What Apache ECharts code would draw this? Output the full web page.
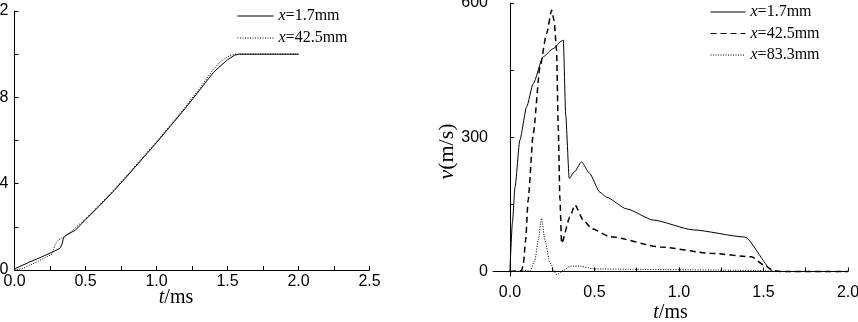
<!DOCTYPE html>
<html>
<head>
<meta charset="utf-8">
<script src="https://cdn.jsdelivr.net/npm/echarts@6/dist/echarts.min.js"></script>
<style>
  html, body { margin: 0; padding: 0; background: #fff; }
  #chart { width: 858px; height: 322px; }
</style>
</head>
<body>
<div id="chart"></div>
<script>
// left panel: displacement vs time
const leftT1 = [0, 0.1, 0.2, 0.285, 0.32, 0.335, 0.345, 0.367, 0.43, 0.5, 0.6, 0.7, 0.8, 0.9, 1.0, 1.1, 1.2, 1.3, 1.4, 1.45, 1.5, 1.55, 1.58, 1.7, 2.0];
const leftY1 = [0.05, 0.35, 0.63, 0.89, 1.0, 1.2, 1.5, 1.62, 1.85, 2.33, 2.98, 3.67, 4.4, 5.15, 5.9, 6.68, 7.47, 8.3, 9.15, 9.45, 9.74, 9.95, 10.0, 10.0, 10.0];
const leftT2 = [0, 0.06, 0.15, 0.26, 0.275, 0.29, 0.31, 0.344, 0.4, 0.5, 0.6, 0.7, 0.8, 0.9, 1.0, 1.1, 1.2, 1.3, 1.4, 1.45, 1.5, 1.55, 1.6, 2.0];
const leftY2 = [0, 0.08, 0.35, 0.72, 0.95, 1.25, 1.4, 1.52, 1.78, 2.38, 3.03, 3.72, 4.45, 5.2, 5.95, 6.73, 7.53, 8.38, 9.3, 9.65, 9.88, 10.0, 10.0, 10.0];

// right panel: velocity vs time
const rightT1 = [0, 0.015, 0.03, 0.059, 0.099, 0.138, 0.197, 0.256, 0.306, 0.316, 0.33, 0.351, 0.38, 0.424, 0.47, 0.533, 0.572, 0.69, 0.848, 1.085, 1.39, 1.558, 1.6, 2.0];
const rightV1 = [0, 110, 188, 294, 368, 420, 480, 498, 515, 517, 350, 208, 222, 245, 220, 177, 166, 140, 115, 93, 77, 0, 0, 0];
const rightT2 = [0, 0.069, 0.079, 0.093, 0.108, 0.138, 0.178, 0.217, 0.247, 0.262, 0.276, 0.286, 0.296, 0.306, 0.355, 0.385, 0.434, 0.483, 0.592, 0.888, 1.183, 1.43, 1.5, 1.558, 1.6, 2.0];
const rightV2 = [0, 2, 15, 70, 160, 308, 457, 532, 584, 560, 494, 320, 160, 63, 122, 149, 115, 96, 78, 55, 41, 33, 15, 2, 0, 0];
const rightT3 = [0, 0.12, 0.148, 0.168, 0.187, 0.207, 0.237, 0.276, 0.315, 0.355, 0.414, 0.493, 0.7, 1.0, 1.3, 1.5, 1.56, 2.0];
const rightV3 = [0, 2, 26, 71, 119, 71, 19, -7, 2, 12, 12, 6, 5, 4, 3, 2, 0, 0];

const rightMinorX = [0, 0.25, 0.5, 0.75, 1.0, 1.25, 1.5, 1.75, 2.0];
const rightLabelsX = [0, 0.5, 1.0, 1.5, 2.0];
const rightMinorY = [0, 150, 300, 450, 600];
const rightLabelsY = [0, 300, 600];

const LABELS = {
  a1: '1.7mm', a2: '42.5mm',
  b1: '1.7mm', b2: '42.5mm', b3: '83.3mm'
};

const zip = (xs, ys) => xs.map((x, i) => [x, ys[i]]);

const SANS = 'Liberation Sans, Arial, sans-serif';
const SERIF = 'Liberation Serif, Times New Roman, serif';
const black = '#000';
const DOTS = [1, 1.5];

const tickLabel = { color: black, fontFamily: SANS, fontSize: 16 };
const axisLine = { show: true, lineStyle: { color: black, width: 1 } };
const tick = { show: true, inside: true, length: 4, lineStyle: { color: black, width: 1 } };
const minor = { show: true, splitNumber: 2, length: 4, lineStyle: { color: black, width: 1 } };
const italicRich = { i: { fontStyle: 'italic', fontFamily: SERIF, fontSize: 20, color: black } };

const legendText = {
  color: black, fontFamily: SERIF, fontSize: 16,
  rich: { i: { fontStyle: 'italic', fontFamily: SERIF, fontSize: 16, color: black } }
};

const chart = echarts.init(document.getElementById('chart'));

chart.setOption({
  animation: false,
  backgroundColor: '#fff',
  color: [black],
  grid: [
    { left: 14.5, top: 11, width: 355, height: 259, outerBoundsMode: 'none' },
    { left: 493, top: 3, width: 355, height: 273, outerBoundsMode: 'none' }
  ],
  legend: [
    {
      data: ['a1', 'a2'], orient: 'vertical', left: 237, top: 8, padding: 0,
      itemWidth: 36, itemHeight: 14, itemGap: 6, selectedMode: false,
      itemStyle: { opacity: 0 }, lineStyle: { width: 1, type: 'inherit' },
      formatter: (n) => '{i|x}=' + LABELS[n], textStyle: legendText
    },
    {
      data: ['b1', 'b2', 'b3'], orient: 'vertical', left: 710, top: 4, padding: 0,
      itemWidth: 35, itemHeight: 14, itemGap: 5.5, selectedMode: false,
      itemStyle: { opacity: 0 }, lineStyle: { width: 1, type: 'inherit' },
      formatter: (n) => '{i|x}=' + LABELS[n], textStyle: legendText
    }
  ],
  xAxis: [
    {
      gridIndex: 0, type: 'value', min: 0, max: 2.5, interval: 0.5,
      axisLine, axisTick: tick, minorTick: minor, splitLine: { show: false },
      axisLabel: { ...tickLabel, margin: 4, formatter: (v) => v.toFixed(1) },
      name: '{i|t}/ms', nameLocation: 'middle', nameGap: 18, nameMoveOverlap: false,
      nameTextStyle: { color: black, fontFamily: SERIF, fontSize: 20, padding: [0, 32, 0, 0], rich: italicRich }
    },
    {
      gridIndex: 1, type: 'value', min: -0.1, max: 2.0,
      axisLine,
      axisTick: { ...tick, customValues: rightMinorX },
      splitLine: { show: false },
      axisLabel: { ...tickLabel, margin: 9, customValues: rightLabelsX, formatter: (v) => v.toFixed(1) },
      name: '{i|t}/ms', nameLocation: 'middle', nameGap: 27, nameMoveOverlap: false,
      nameTextStyle: { color: black, fontFamily: SERIF, fontSize: 20, rich: italicRich }
    }
  ],
  yAxis: [
    {
      gridIndex: 0, type: 'value', min: 0, max: 12, interval: 4,
      axisLine, axisTick: tick, minorTick: minor, splitLine: { show: false },
      axisLabel: { ...tickLabel, margin: 6 }
    },
    {
      gridIndex: 1, type: 'value', min: -10, max: 600,
      axisLine,
      axisTick: { ...tick, customValues: rightMinorY },
      splitLine: { show: false },
      axisLabel: { ...tickLabel, margin: 5, customValues: rightLabelsY },
      name: '{i|v}(m/s)', nameLocation: 'middle', nameGap: 35, nameRotate: 90, nameMoveOverlap: false,
      nameTextStyle: {
        color: black, fontFamily: SERIF, fontSize: 22, padding: [0, 24, 0, 0],
        rich: { i: { fontStyle: 'italic', fontFamily: SERIF, fontSize: 22, color: black } }
      }
    }
  ],
  series: [
    {
      name: 'a1', type: 'line', xAxisIndex: 0, yAxisIndex: 0, symbol: 'none',
      itemStyle: { color: black },
      lineStyle: { color: black, width: 1 }, data: zip(leftT1, leftY1)
    },
    {
      name: 'a2', type: 'line', xAxisIndex: 0, yAxisIndex: 0, symbol: 'none',
      itemStyle: { color: black },
      lineStyle: { color: black, width: 1, type: DOTS }, data: zip(leftT2, leftY2)
    },
    {
      name: 'b1', type: 'line', xAxisIndex: 1, yAxisIndex: 1, symbol: 'none',
      smooth: 0.2, smoothMonotone: 'x', itemStyle: { color: black },
      lineStyle: { color: black, width: 1 }, data: zip(rightT1, rightV1)
    },
    {
      name: 'b2', type: 'line', xAxisIndex: 1, yAxisIndex: 1, symbol: 'none',
      smooth: 0.2, smoothMonotone: 'x', itemStyle: { color: black },
      lineStyle: { color: black, width: 1.5, type: [6, 4] }, data: zip(rightT2, rightV2)
    },
    {
      name: 'b3', type: 'line', xAxisIndex: 1, yAxisIndex: 1, symbol: 'none',
      smooth: 0.2, smoothMonotone: 'x', itemStyle: { color: black },
      lineStyle: { color: black, width: 1, type: DOTS }, data: zip(rightT3, rightV3)
    }
  ]
});
</script>
</body>
</html>
